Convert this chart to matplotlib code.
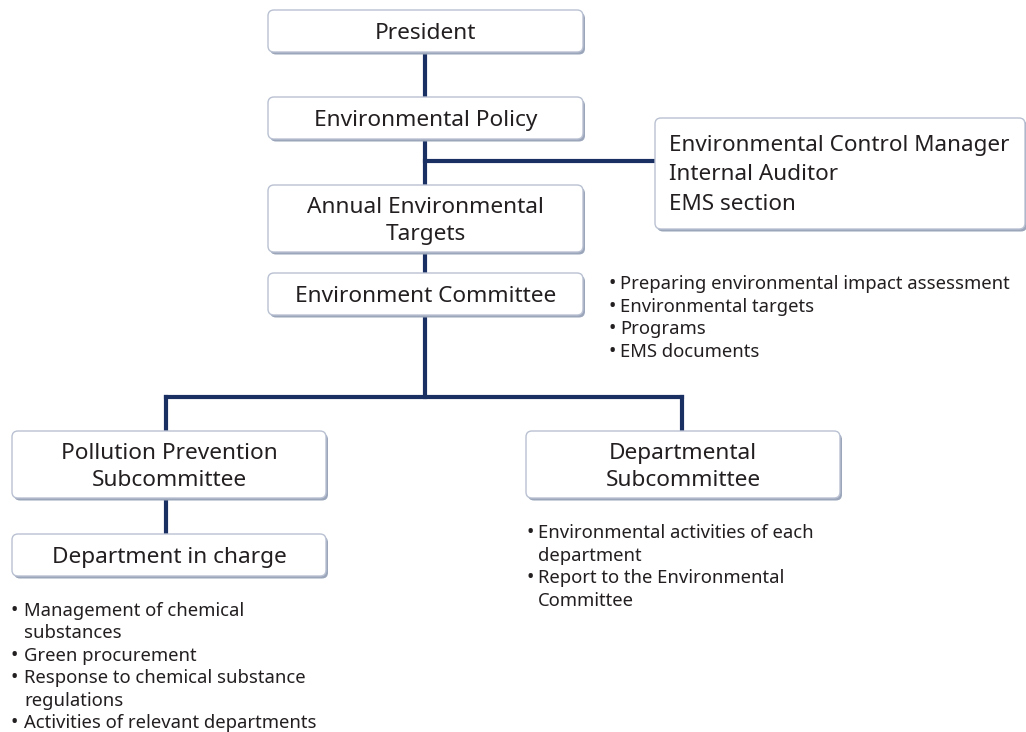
import matplotlib
matplotlib.use("Agg")
import matplotlib.pyplot as plt
from matplotlib.patches import FancyBboxPatch

# ---- data (texts) ----
box_labels = {
    "president": "President",
    "policy": "Environmental Policy",
    "targets": "Annual Environmental\nTargets",
    "committee": "Environment Committee",
    "pollution": "Pollution Prevention\nSubcommittee",
    "departmental": "Departmental\nSubcommittee",
    "dept_charge": "Department in charge",
}
side_box_lines = ["Environmental Control Manager", "Internal Auditor", "EMS section"]
committee_items = [["Preparing environmental impact assessment"], ["Environmental targets"],
                   ["Programs"], ["EMS documents"]]
departmental_items = [["Environmental activities of each", "department"],
                      ["Report to the Environmental", "Committee"]]
dept_charge_items = [["Management of chemical", "substances"], ["Green procurement"],
                     ["Response to chemical substance", "regulations"],
                     ["Activities of relevant departments"]]

# ---- layout (pixel coordinates) ----
boxes = {
    "president": (268, 10, 315, 42),
    "policy": (268, 97, 315, 42),
    "targets": (268, 185, 315, 67),
    "committee": (268, 273, 315, 42),
    "pollution": (12, 431, 314, 67),
    "departmental": (526, 431, 314, 67),
    "dept_charge": (12, 534, 314, 42),
}
side_box = (655, 118, 370, 111)

LINE = "#1b3062"
TXT = "#231f20"
FONT = "Noto Sans"

fig = plt.figure(figsize=(10.26, 7.32), dpi=100)
ax = fig.add_axes([0, 0, 1, 1])
ax.set_xlim(0, 1026)
ax.set_ylim(732, 0)
ax.axis("off")


def draw_box(x, y, w, h):
    sh = FancyBboxPatch((x + 2, y + 2.5), w, h, boxstyle="round,pad=0,rounding_size=6",
                        fc="#9ba6bb", ec="none", zorder=2)
    ax.add_patch(sh)
    b = FancyBboxPatch((x, y), w, h, boxstyle="round,pad=0,rounding_size=6",
                       fc="white", ec="#b9c1d2", lw=1.0, zorder=3)
    ax.add_patch(b)


# connectors
lw = 3.0
segs = [
    ((425, 425), (52, 97)),
    ((425, 425), (139, 185)),
    ((425, 655), (161, 161)),
    ((425, 425), (252, 273)),
    ((425, 425), (315, 397)),
    ((166, 682), (397, 397)),
    ((166, 166), (397, 431)),
    ((682, 682), (397, 431)),
    ((166, 166), (498, 534)),
]
for xs, ys in segs:
    ax.plot(xs, ys, color=LINE, lw=lw, solid_capstyle="projecting", zorder=1)

for key, (x, y, w, h) in boxes.items():
    draw_box(x, y, w, h)
    ax.text(x + w / 2, y + h / 2 + 2.5, box_labels[key], ha="center", va="center",
            fontsize=16.3, color=TXT, family=FONT, zorder=4, linespacing=1.4)

x, y, w, h = side_box
draw_box(x, y, w, h)
for i, line in enumerate(side_box_lines):
    ax.text(669, 146 + i * 29, line, ha="left", va="center", fontsize=16.2,
            color=TXT, family=FONT, zorder=4)


def bullets(items, xb, xt, y0, dy, fs=13.3):
    k = 0
    for item in items:
        for j, line in enumerate(item):
            yy = y0 + k * dy
            if j == 0:
                ax.text(xb, yy, "•", ha="center", va="center", fontsize=fs + 1,
                        color=TXT, family=FONT, zorder=4)
            ax.text(xt, yy, line, ha="left", va="center", fontsize=fs, color=TXT,
                    family=FONT, zorder=4)
            k += 1


bullets(committee_items, 612, 620, 284, 22.6)
bullets(departmental_items, 530, 538, 533, 22.6)
bullets(dept_charge_items, 14, 24, 611, 22.4)

fig.savefig("out.png", dpi=100)
